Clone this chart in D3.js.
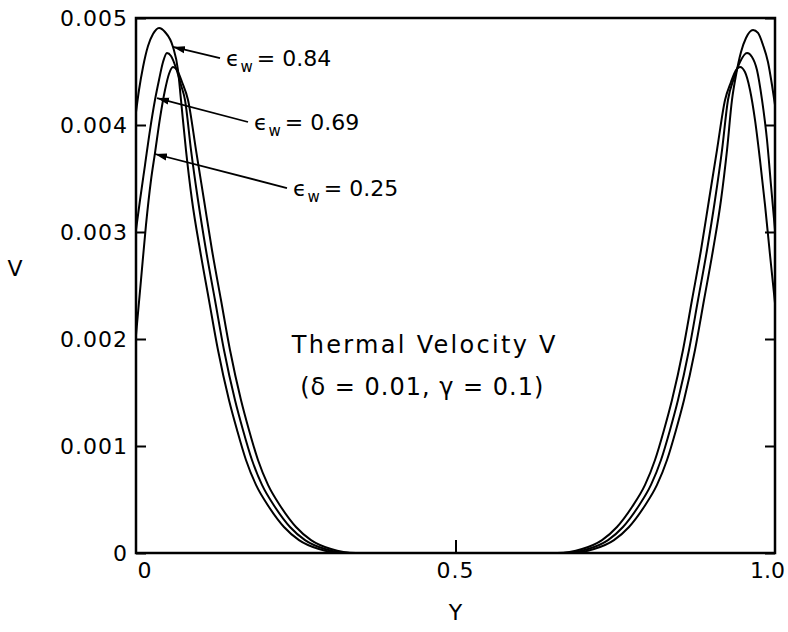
<!DOCTYPE html>
<html>
<head>
<meta charset="utf-8">
<script src="https://cdn.jsdelivr.net/npm/d3@7"></script>
<style>
  body { margin: 0; background: #fff; }
  svg text { font-family: "DejaVu Sans", sans-serif; fill: #000; }
  .curve { fill: none; stroke: #000; stroke-width: 2; }
</style>
</head>
<body>
<svg id="chart" width="788" height="632"></svg>
<script>
// Y positions and V values, one pair of arrays per curve
const y084 = [0, 0.0047, 0.011, 0.0188, 0.0266, 0.036, 0.0454, 0.0579, 0.0657, 0.0704, 0.0782, 0.0876, 0.1002, 0.1142, 0.1283, 0.1455, 0.1581, 0.1721, 0.1878, 0.2081, 0.2316, 0.2551, 0.2864, 0.3239,
              0.6792, 0.7167, 0.748, 0.7715, 0.795, 0.8153, 0.831, 0.8451, 0.8576, 0.8748, 0.8889, 0.903, 0.9155, 0.9249, 0.9327, 0.939, 0.9468, 0.9546, 0.9656, 0.9734, 0.9812, 0.989, 0.9953, 1.0];
const v084 = [0.004121, 0.004327, 0.004542, 0.004738, 0.00485, 0.004907, 0.004869, 0.004729, 0.004514, 0.004234, 0.003766, 0.003299, 0.002832, 0.002364, 0.001897, 0.00143, 0.00115, 0.000869, 0.000636, 0.00043, 0.000243, 0.000121, 0.000037, 0,
              0, 0.000037, 0.000121, 0.000243, 0.00043, 0.000636, 0.000869, 0.00115, 0.00143, 0.001897, 0.002364, 0.002832, 0.003299, 0.003766, 0.004234, 0.004467, 0.004682, 0.004813, 0.004888, 0.00486, 0.004748, 0.004589, 0.004374, 0.004187];

const y069 = [0, 0.0063, 0.0141, 0.0219, 0.0297, 0.036, 0.0423, 0.0485, 0.0548, 0.0626, 0.0704, 0.0767, 0.0861, 0.097, 0.1095, 0.1236, 0.1377, 0.1549, 0.1674, 0.1815, 0.1972, 0.2175, 0.241, 0.2645, 0.2958, 0.3349,
              0.6682, 0.7074, 0.7387, 0.7621, 0.7856, 0.8059, 0.8216, 0.8357, 0.8482, 0.8654, 0.8795, 0.8936, 0.9061, 0.9171, 0.9264, 0.9358, 0.9452, 0.9562, 0.964, 0.9718, 0.9797, 0.9875, 0.9937, 1.0];
const v069 = [0.003019, 0.003299, 0.003626, 0.003953, 0.004234, 0.004421, 0.004589, 0.004673, 0.004645, 0.004533, 0.004374, 0.004234, 0.003766, 0.003299, 0.002832, 0.002364, 0.001897, 0.00143, 0.00115, 0.000869, 0.000636, 0.00043, 0.000243, 0.000121, 0.000037, 0,
              0, 0.000037, 0.000121, 0.000243, 0.00043, 0.000636, 0.000869, 0.00115, 0.00143, 0.001897, 0.002364, 0.002832, 0.003299, 0.003766, 0.004234, 0.004439, 0.004589, 0.004673, 0.004636, 0.004514, 0.004234, 0.00386, 0.003439, 0.003019];

const y025 = [0, 0.0078, 0.0156, 0.0235, 0.0297, 0.0376, 0.0454, 0.0516, 0.0579, 0.0642, 0.072, 0.0814, 0.0939, 0.1064, 0.1189, 0.133, 0.1471, 0.1643, 0.1768, 0.1909, 0.2066, 0.2269, 0.2504, 0.2739, 0.3052, 0.3443,
              0.6588, 0.698, 0.7293, 0.7527, 0.7762, 0.7966, 0.8122, 0.8263, 0.8388, 0.856, 0.8701, 0.8842, 0.8967, 0.9092, 0.9218, 0.9311, 0.939, 0.9452, 0.953, 0.9609, 0.9687, 0.9765, 0.9844, 0.9922, 1.0];
const v025 = [0.002037, 0.002551, 0.003065, 0.003486, 0.003738, 0.004065, 0.004327, 0.004477, 0.004542, 0.004514, 0.004402, 0.004234, 0.003766, 0.003299, 0.002832, 0.002364, 0.001897, 0.00143, 0.00115, 0.000869, 0.000636, 0.00043, 0.000243, 0.000121, 0.000037, 0,
              0, 0.000037, 0.000121, 0.000243, 0.00043, 0.000636, 0.000869, 0.00115, 0.00143, 0.001897, 0.002364, 0.002832, 0.003299, 0.003766, 0.004234, 0.004402, 0.004514, 0.004542, 0.004495, 0.004327, 0.004047, 0.003673, 0.003252, 0.002785, 0.002336];

const emissivities = ["0.84", "0.69", "0.25"];
// arrow tip on the curve, and tail next to the label (data units)
const tipY = [0.0579, 0.0329, 0.0297];
const tipV = [0.004729, 0.004252, 0.003729];
const tailY = [0.1315, 0.1753, 0.2363];
const tailV = [0.004626, 0.004028, 0.003411];

const xTicks = [0, 0.5, 1.0];
const xTickLabels = ["0", "0.5", "1.0"];
const yTicks = [0, 0.001, 0.002, 0.003, 0.004, 0.005];
const yTickLabels = ["0", "0.001", "0.002", "0.003", "0.004", "0.005"];

const margin = { top: 18, right: 13, bottom: 79, left: 136 };
const width = 788 - margin.left - margin.right;
const height = 632 - margin.top - margin.bottom;

const svg = d3.select("#chart");
const defs = svg.append("defs");
defs.append("marker")
    .attr("id", "head")
    .attr("viewBox", "0 0 12 8")
    .attr("refX", 12).attr("refY", 4)
    .attr("markerWidth", 12).attr("markerHeight", 8)
    .attr("markerUnits", "userSpaceOnUse")
    .attr("orient", "auto")
  .append("path")
    .attr("d", "M0,0.5 L12,4 L0,7.5 Z")
    .attr("fill", "#000");

const g = svg.append("g").attr("transform", `translate(${margin.left},${margin.top})`);

const x = d3.scaleLinear().domain([0, 1]).range([0, width]);
const y = d3.scaleLinear().domain([0, 0.005]).range([height, 0]);

// curves
const line = d3.line().x(d => x(d[0])).y(d => y(d[1])).curve(d3.curveMonotoneX);
[[y084, v084], [y069, v069], [y025, v025]].forEach(([ys, vs]) => {
  g.append("path")
    .datum(d3.zip(ys, vs))
    .attr("class", "curve")
    .attr("d", line);
});

// axes with inward ticks
const yAxis = g.append("g")
  .call(d3.axisLeft(y).tickValues(yTicks).tickSize(-10).tickPadding(8)
        .tickFormat((d, i) => yTickLabels[i]));
yAxis.selectAll("text").attr("font-size", 22).attr("letter-spacing", 1).attr("font-family", "DejaVu Sans");

g.append("g").attr("transform", `translate(${width},0)`)
  .call(d3.axisRight(y).tickValues(yTicks).tickSize(-10).tickFormat(""));

g.append("g").attr("transform", `translate(0,${height})`)
  .call(d3.axisBottom(x).tickValues([0.5]).tickSize(-13).tickFormat(""));

g.selectAll(".domain").remove();
g.selectAll(".tick line").attr("stroke", "#000").attr("stroke-width", 2);

g.selectAll(".xlab")
  .data(xTicks)
  .join("text")
  .attr("class", "xlab")
  .attr("x", d => x(d))
  .attr("y", height + 25)
  .attr("dx", (d, i) => i === 0 ? 9 : (i === 2 ? 10 : 0))
  .attr("text-anchor", (d, i) => i === 2 ? "end" : "middle")
  .attr("font-size", 22)
  .attr("letter-spacing", (d, i) => i === 2 ? 0 : 1)
  .text((d, i) => xTickLabels[i]);

// frame
g.append("rect")
  .attr("width", width).attr("height", height)
  .attr("fill", "none").attr("stroke", "#000").attr("stroke-width", 2.5);

// axis titles
svg.append("text").attr("x", 15).attr("y", 276).attr("text-anchor", "middle")
  .attr("font-size", 22).text("V");
svg.append("text").attr("x", margin.left + x(0.5)).attr("y", 620).attr("text-anchor", "middle")
  .attr("font-size", 22).text("Y");

// in-plot title
g.append("text")
  .attr("x", x(0.452)).attr("y", y(0.00187))
  .attr("text-anchor", "middle").attr("font-size", 24).attr("letter-spacing", 2.3)
  .text("Thermal  Velocity  V");
g.append("text")
  .attr("x", x(0.448)).attr("y", y(0.00148))
  .attr("text-anchor", "middle").attr("font-size", 24).attr("letter-spacing", 1)
  .text("(δ = 0.01,  γ = 0.1)");

// emissivity labels with arrows
emissivities.forEach((e, i) => {
  g.append("line")
    .attr("x1", x(tailY[i])).attr("y1", y(tailV[i]))
    .attr("x2", x(tipY[i])).attr("y2", y(tipV[i]))
    .attr("stroke", "#000").attr("stroke-width", 1.8)
    .attr("marker-end", "url(#head)");
  const t = g.append("text")
    .attr("x", x(tailY[i]) + 6).attr("y", y(tailV[i]) + 8)
    .attr("font-size", 22);
  t.append("tspan").text("ϵ");
  t.append("tspan").attr("font-size", 15).attr("dy", 6).attr("dx", 1).text("w");
  t.append("tspan").attr("dy", -6).attr("dx", 4).text("= " + e);
});
</script>
</body>
</html>
